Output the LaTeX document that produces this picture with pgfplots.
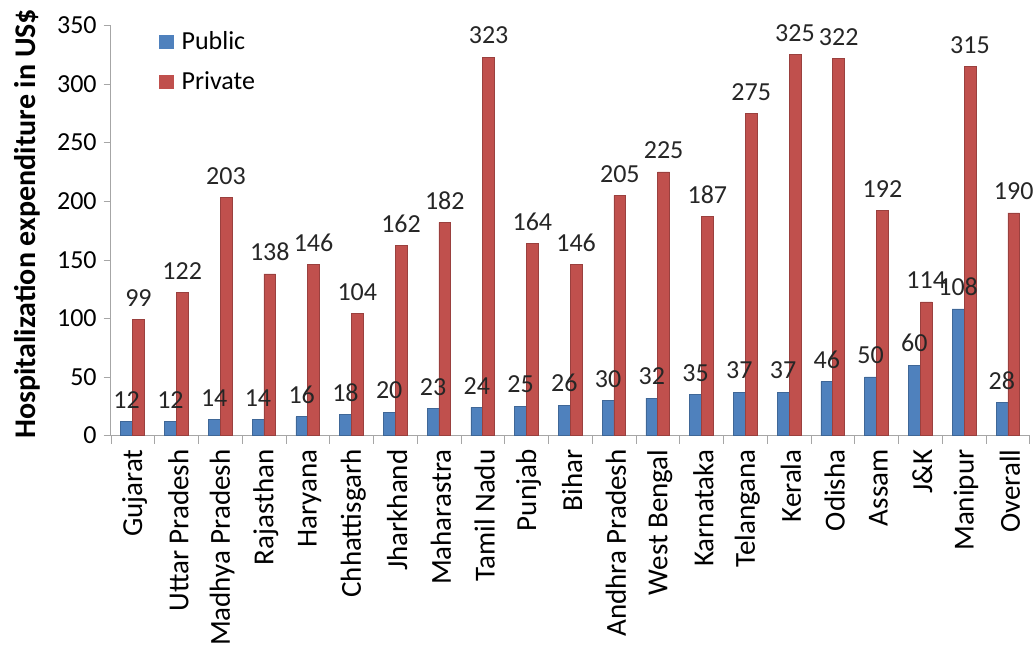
\documentclass[border=0pt]{standalone}
\usepackage{pgfplots}
\pgfplotsset{compat=1.18}
\usepackage{fontspec}
\setmainfont{Carlito}
\definecolor{pubblue}{HTML}{4F81BD}
\definecolor{privred}{HTML}{C0504D}
\begin{document}
\begin{tikzpicture}
\begin{axis}[
  scale only axis, width=459.5pt, height=205pt,
  xmin=-0.5, xmax=20.5, ymin=0, ymax=350,
  axis x line=bottom, axis y line=left,
  axis line style={draw=gray!70, -},
  /pgf/number format/assume math mode=true,
  ybar, bar width=0.27,
  ytick={0,50,...,350},
  yticklabel style={font=\fontsize{13}{15}\selectfont, text=black},
  ytick style={draw=gray!70},
  xtick={0,...,20},
  xticklabels={Gujarat,Uttar Pradesh,Madhya Pradesh,Rajasthan,Haryana,Chhattisgarh,Jharkhand,Maharastra,Tamil Nadu,Punjab,Bihar,Andhra Pradesh,West Bengal,Karnataka,Telangana,Kerala,Odisha,Assam,J\&K,Manipur,Overall},
  xticklabel style={rotate=90, anchor=east, font=\fontsize{14.5}{16}\selectfont, text=black, yshift=-1pt},
  major x tick style={draw=none},
  minor xtick={-0.49,0.5,1.5,2.5,3.5,4.5,5.5,6.5,7.5,8.5,9.5,10.5,11.5,12.5,13.5,14.5,15.5,16.5,17.5,18.5,19.5,20.49},
  minor x tick style={draw=gray!70},
  tick align=outside,
  major tick length=3.5pt, minor tick length=4pt,
  ylabel={Hospitalization expenditure in US\$},
  ylabel style={at={(rel axis cs:-0.0911,0.516)}, anchor=center, font=\bfseries\fontsize{15}{17}\selectfont},
  legend style={at={(rel axis cs:0.046,1.006)}, anchor=north west, draw=none, fill=none,
     font=\fontsize{13}{15}\selectfont, row sep=5.5pt},
  legend cell align=left,
  every node near coord/.append style={font=\fontsize{13}{15}\selectfont, text=black!85, yshift=3pt},
]
\addplot+[bar shift=-0.135, fill=pubblue, draw=pubblue!80!black, line width=0.3pt,
  legend image code/.code={\fill[pubblue] (0pt,-3.4pt) rectangle (6.8pt,3.4pt);}]
  coordinates {(0,12) (1,12) (2,14) (3,14) (4,16) (5,18) (6,20) (7,23) (8,24) (9,25) (10,26) (11,30) (12,32) (13,35) (14,37) (15,37) (16,46) (17,50) (18,60) (19,108) (20,28)};
\addlegendentry{\hspace{2pt}Public}
\addplot+[bar shift=0.135, fill=privred, draw=privred!80!black, line width=0.3pt,
  legend image code/.code={\fill[privred] (0pt,-3.4pt) rectangle (6.8pt,3.4pt);}]
  coordinates {(0,99) (1,122) (2,203) (3,138) (4,146) (5,104) (6,162) (7,182) (8,323) (9,164) (10,146) (11,205) (12,225) (13,187) (14,275) (15,325) (16,322) (17,192) (18,114) (19,315) (20,190)};
\addlegendentry{\hspace{2pt}Private}
\addplot+[bar shift=-0.135, draw=none, fill=none, forget plot, nodes near coords]
  coordinates {(0,12) (1,12) (2,14) (3,14) (4,16) (5,18) (6,20) (7,23) (8,24) (9,25) (10,26) (11,30) (12,32) (13,35) (14,37) (15,37) (16,46) (17,50) (18,60) (19,108) (20,28)};
\addplot+[bar shift=0.135, draw=none, fill=none, forget plot, nodes near coords]
  coordinates {(0,99) (1,122) (2,203) (3,138) (4,146) (5,104) (6,162) (7,182) (8,323) (9,164) (10,146) (11,205) (12,225) (13,187) (14,275) (15,325) (16,322) (17,192) (18,114) (19,315) (20,190)};
\coordinate (sw) at (rel axis cs:0,0);
\coordinate (ne) at (rel axis cs:1,1);
\end{axis}
\pgfresetboundingbox
\path ([shift={(-55.35pt,-106.25pt)}]sw) rectangle ([shift={(2.65pt,12.75pt)}]ne);
\end{tikzpicture}
\end{document}
